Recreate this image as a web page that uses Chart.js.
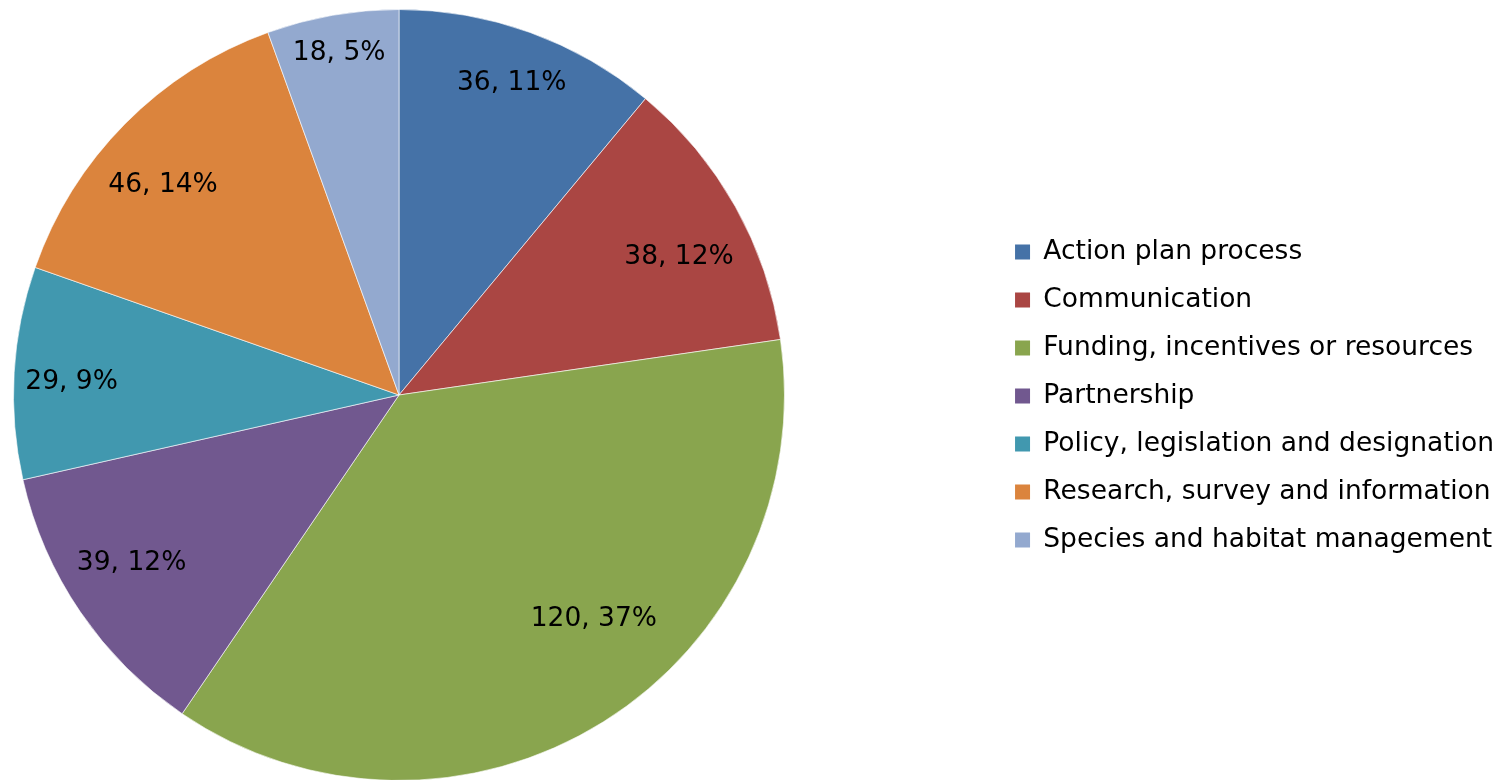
<!DOCTYPE html>
<html>
<head>
<meta charset="utf-8">
<script src="https://cdn.jsdelivr.net/npm/chart.js@4"></script>
<style>
  html, body { margin: 0; padding: 0; background: #fff; }
  #wrap { width: 1510px; height: 780px; }
</style>
</head>
<body>
<div id="wrap"><canvas id="pie"></canvas></div>
<script>
var categories = [
    'Action plan process',
    'Communication',
    'Funding, incentives or resources',
    'Partnership',
    'Policy, legislation and designation',
    'Research, survey and information',
    'Species and habitat management'
];
var counts = [36, 38, 120, 39, 29, 46, 18];
var percents = [11, 12, 37, 12, 9, 14, 5];
var colors = ['#4572A7', '#AA4643', '#89A54E', '#71588F', '#4198AF', '#DB843D', '#93A9CF'];

// how far out (fraction of radius) each data label sits, mimics Excel "best fit"
var labelRadius = [0.86, 0.81, 0.77, 0.82, 0.85, 0.82, 0.9];
var labelAngleShift = [0, 3, -9, 2, -1, -3, 0];

var FONT = '"DejaVu Sans", Verdana, sans-serif';
var FONT_SIZE = 26.5;

// keep the pie in the left part of the canvas, legend stays on the right
var pieArea = {
    id: 'pieArea',
    afterLayout: function(chart) {
        var a = { left: 13, right: 785, top: 9, bottom: 781 };
        a.width = a.right - a.left;
        a.height = a.bottom - a.top;
        chart.chartArea = a;
    }
};

var sliceLabels = {
    id: 'sliceLabels',
    afterDatasetsDraw: function(chart) {
        var ctx = chart.ctx;
        var meta = chart.getDatasetMeta(0);
        ctx.save();
        ctx.font = FONT_SIZE + 'px ' + FONT;
        ctx.fillStyle = '#000';
        ctx.textAlign = 'center';
        ctx.textBaseline = 'middle';
        meta.data.forEach(function(arc, i) {
            var p = arc.getProps(['x', 'y', 'startAngle', 'endAngle', 'outerRadius'], true);
            var mid = (p.startAngle + p.endAngle) / 2 + labelAngleShift[i] * Math.PI / 180;
            var r = p.outerRadius * labelRadius[i];
            ctx.fillText(counts[i] + ', ' + percents[i] + '%', p.x + Math.cos(mid) * r, p.y + Math.sin(mid) * r);
        });
        ctx.restore();
    }
};

new Chart(document.getElementById('pie'), {
    type: 'pie',
    data: {
        labels: categories,
        datasets: [{
            data: counts,
            backgroundColor: colors,
            borderColor: 'rgba(255,255,255,0.6)',
            borderWidth: 1,
            clip: false
        }]
    },
    options: {
        responsive: true,
        maintainAspectRatio: false,
        animation: false,
        layout: {
            padding: { top: 12, right: 6, bottom: 0, left: 0 }
        },
        plugins: {
            tooltip: { enabled: false },
            legend: {
                position: 'right',
                align: 'center',
                labels: {
                    color: '#000',
                    font: { family: FONT, size: FONT_SIZE },
                    boxWidth: 15,
                    boxHeight: 15,
                    padding: 21.5,
                    generateLabels: function(chart) {
                        var items = Chart.overrides.pie.plugins.legend.labels.generateLabels(chart);
                        items.forEach(function(it) { it.lineWidth = 0; });
                        return items;
                    }
                }
            }
        }
    },
    plugins: [pieArea, sliceLabels]
});
</script>
</body>
</html>
